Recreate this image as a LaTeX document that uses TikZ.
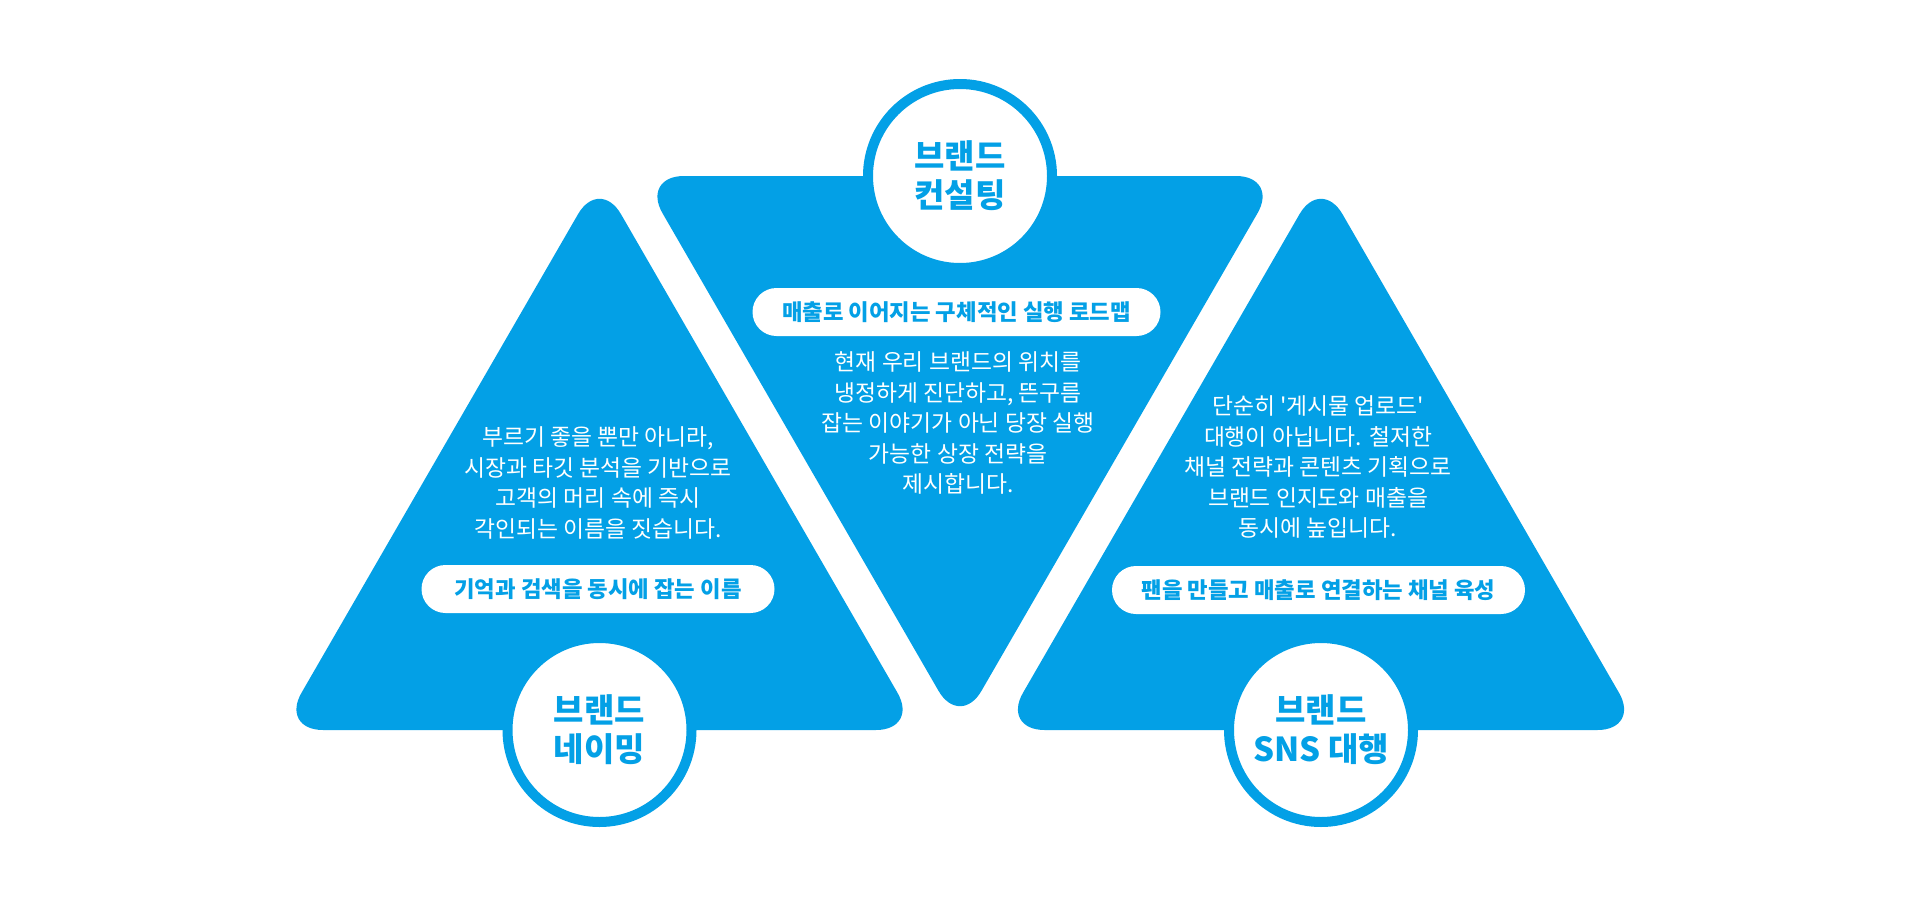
\documentclass[tikz,border=0pt]{standalone}
\usepackage{fontspec}
\setmainfont{Noto Sans CJK KR}
\newfontfamily\krplain{Noto Sans CJK KR}[Ligatures=ResetAll]
\definecolor{brandblue}{HTML}{03A0E6}
\begin{document}
\begin{tikzpicture}[x=1pt,y=-1pt,
  tri/.style={fill=brandblue, rounded corners=43pt},
  badge/.style={circle, fill=white, draw=brandblue, line width=10pt, minimum size=184pt, inner sep=0pt, align=center, text=brandblue, font=\fontsize{33}{39}\selectfont\bfseries},
  pill/.style={rectangle, fill=white, rounded corners=24pt, minimum height=48pt, inner sep=0pt, text=brandblue, font=\fontsize{22.3}{26}\selectfont\bfseries},
  body/.style={align=center, text=white, inner sep=0pt, font=\fontsize{22.8}{30.5}\selectfont}]
\useasboundingbox (0,0) rectangle (1920,905);
% triangles
\fill[tri] (599.5,730) -- (919,730) -- (599.5,177) -- (280,730) -- cycle;
\fill[tri] (960,176) -- (1279,176) -- (960,728) -- (641,176) -- cycle;
\fill[tri] (1321,730) -- (1640.5,730) -- (1321,177) -- (1001.5,730) -- cycle;
% badges
\node[badge] (cname) at (599.5,730) {브랜드\\네이밍};
\node[badge] (cconsult) at (960,176) {브랜드\\컨설팅};
\node[badge] (csns) at (1321,730) {브랜드\\SNS 대행};
% pills
\node[pill, minimum width=353pt] (pname) at (598,589) {기억과 검색을 동시에 잡는 이름};
\node[pill, minimum width=408pt] (pconsult) at (956.5,312) {매출로 이어지는 구체적인 실행 로드맵};
\node[pill, minimum width=413pt] (psns) at (1318.5,590) {팬을 만들고 매출로 연결하는 채널 육성};
% body texts
\node[body] (bname) at (598,483) {부르기 좋을 뿐만 아니라,\\시장과 타깃 분석을 기반으로\\고객의 머리 속에 즉시\\각인되는 이름을 짓습니다.};
\node[body] (bconsult) at (958,423) {현재 우리 브랜드의 위치를\\냉정하게 진단하고, 뜬구름\\잡는 이야기가 아닌 당장 실행\\가능한 상장 전략을\\제시합니다.};
\node[body] (bsns) at (1318,467) {단순히 {\krplain '}게시물 업로드{\krplain '}\\대행이 아닙니다. 철저한\\채널 전략과 콘텐츠 기획으로\\브랜드 인지도와 매출을\\동시에 높입니다.};
\end{tikzpicture}
\end{document}
